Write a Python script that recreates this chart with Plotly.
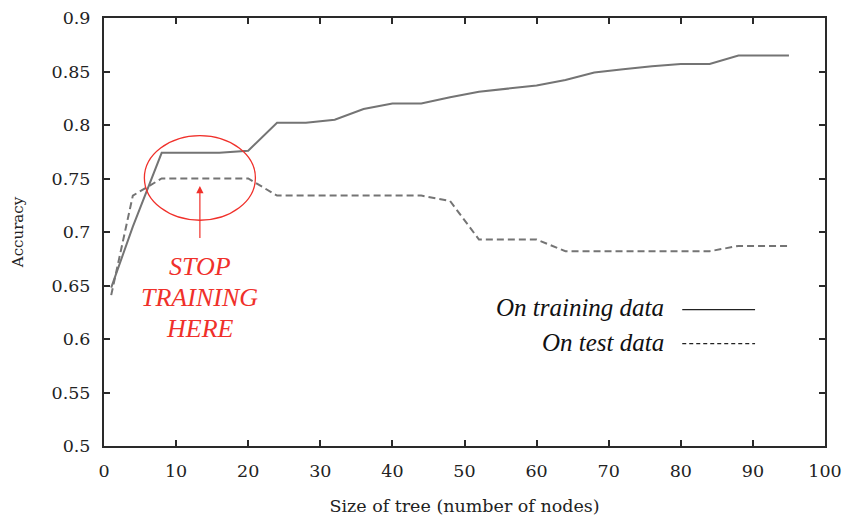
import plotly.graph_objects as go

# Tree size (number of nodes) and measured accuracy
tree_size = [1, 4, 8, 12, 16, 20, 24, 28, 32, 36, 40, 44, 48, 52, 56, 60,
             64, 68, 72, 76, 80, 84, 88, 92, 95]
acc_train = [0.648, 0.705, 0.774, 0.774, 0.774, 0.776, 0.802, 0.802, 0.805,
             0.815, 0.820, 0.820, 0.826, 0.831, 0.834, 0.837, 0.842, 0.849,
             0.852, 0.855, 0.857, 0.857, 0.865, 0.865, 0.865]
acc_test = [0.641, 0.734, 0.750, 0.750, 0.750, 0.750, 0.734, 0.734, 0.734,
            0.734, 0.734, 0.734, 0.729, 0.693, 0.693, 0.693, 0.682, 0.682,
            0.682, 0.682, 0.682, 0.682, 0.687, 0.687, 0.687]

x_ticks = [0, 10, 20, 30, 40, 50, 60, 70, 80, 90, 100]
y_ticks = [0.5, 0.55, 0.6, 0.65, 0.7, 0.75, 0.8, 0.85, 0.9]
y_tick_text = ["0.5", "0.55", "0.6", "0.65", "0.7", "0.75", "0.8", "0.85", "0.9"]

# Marked stopping point
stop_x, stop_y = 13.3, 0.7505
stop_rx, stop_ry = 7.7, 0.0395
stop_lines = ["STOP", "TRAINING", "HERE"]
stop_line_y = [0.6677, 0.6386, 0.6096]

line_col = "#747474"
axis_col = "#2a2a2a"
red = "#f0302a"
serif = "DejaVu Serif"
italic_serif = "Liberation Serif"

fig = go.Figure()
fig.add_trace(go.Scatter(x=tree_size, y=acc_train, mode="lines",
                         line=dict(color=line_col, width=2), showlegend=False))
fig.add_trace(go.Scatter(x=tree_size, y=acc_test, mode="lines",
                         line=dict(color=line_col, width=2, dash="7px,4px"),
                         showlegend=False))

# Ellipse around the best test accuracy
fig.add_shape(type="circle", xref="x", yref="y",
              x0=stop_x - stop_rx, x1=stop_x + stop_rx,
              y0=stop_y - stop_ry, y1=stop_y + stop_ry,
              line=dict(color=red, width=1.3))
# Arrow pointing into it
fig.add_annotation(x=stop_x, y=0.743, ax=stop_x, ay=0.693,
                   xref="x", yref="y", axref="x", ayref="y",
                   showarrow=True, arrowhead=2, arrowsize=1.2, arrowwidth=1.2,
                   arrowcolor=red, text="")
for txt, ty in zip(stop_lines, stop_line_y):
    fig.add_annotation(x=stop_x, y=ty, xref="x", yref="y",
                       text="<i>" + txt + "</i>", showarrow=False,
                       font=dict(family=italic_serif, size=26, color=red))

# Key: labels to the left of line samples
key = [("On training data", 0.6290, "solid"), ("On test data", 0.5972, "4px,3px")]
for label, ky, dash in key:
    fig.add_annotation(x=77.9, y=ky, xref="x", yref="y", xanchor="right",
                       text="<i>" + label + "</i>", showarrow=False,
                       font=dict(family=italic_serif, size=25, color="#111"))
    fig.add_shape(type="line", xref="x", yref="y", x0=80.2, x1=90.3,
                  y0=ky - 0.0015, y1=ky - 0.0015,
                  line=dict(color="#222", width=1.2, dash=dash))

axis_common = dict(showline=True, linecolor=axis_col, linewidth=2, mirror="ticks",
                   ticks="inside", ticklen=6, tickwidth=2, tickcolor=axis_col,
                   showgrid=False, zeroline=False, automargin=False,
                   tickfont=dict(family=serif, size=17.5, color="#222"))

fig.update_xaxes(range=[0, 100], tickvals=x_ticks,
                 ticklabelstandoff=8,
                 title=dict(text="Size of tree (number of nodes)",
                            font=dict(family=serif, size=17.5, color="#222"),
                            standoff=20),
                 **axis_common)
fig.update_yaxes(range=[0.5, 0.9], tickvals=y_ticks, ticktext=y_tick_text,
                 ticklabelstandoff=8,
                 title=dict(text="Accuracy",
                            font=dict(family=serif, size=15, color="#222"),
                            standoff=24),
                 **axis_common)

fig.update_layout(width=845, height=516, plot_bgcolor="white", paper_bgcolor="white",
                  margin=dict(l=104, r=20, t=18, b=70), showlegend=False)

fig.write_html("out.html")
